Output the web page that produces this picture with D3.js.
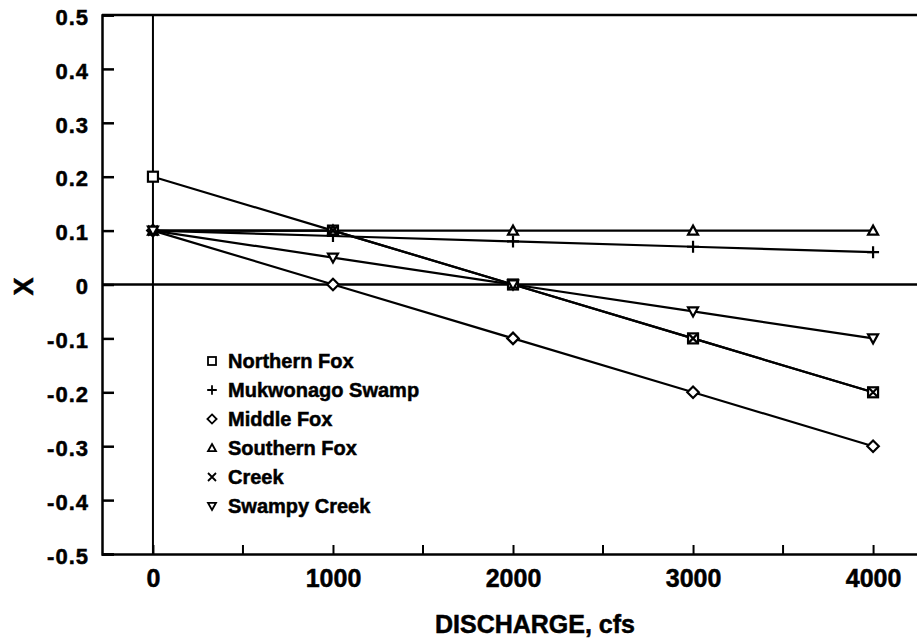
<!DOCTYPE html>
<html>
<head>
<meta charset="utf-8">
<script src="https://cdn.jsdelivr.net/npm/d3@7"></script>
<style>
  html, body { margin: 0; padding: 0; background: #fff; }
  svg { display: block; font-family: "Liberation Sans", Arial, sans-serif; font-weight: bold; }
  svg text { stroke: #000; stroke-width: 0.5px; }
</style>
</head>
<body>
<svg id="chart" width="917" height="638"></svg>
<script>
// Discharge values (cfs) shared by every reach
const discharge = [0, 1000, 2000, 3000, 4000];

// Muskingum X parameter for each reach
const northernFox    = [0.2, 0.1, 0.0, -0.1, -0.2];
const mukwonagoSwamp = [0.1, 0.09, 0.08, 0.07, 0.06];
const middleFox      = [0.1, 0.0, -0.1, -0.2, -0.3];
const southernFox    = [0.1, 0.1, 0.1, 0.1, 0.1];
const creek          = [0.1, 0.1, 0.0, -0.1, -0.2];
const swampyCreek    = [0.1, 0.05, 0.0, -0.05, -0.1];

const seriesNames = ["Northern Fox", "Mukwonago Swamp", "Middle Fox", "Southern Fox", "Creek", "Swampy Creek"];
const seriesValues = [northernFox, mukwonagoSwamp, middleFox, southernFox, creek, swampyCreek];
const seriesSymbols = ["square", "plus", "diamond", "triangle", "cross", "triangleDown"];

const xTickValues = [0, 1000, 2000, 3000, 4000];
const xMinorTicks = [500, 1500, 2500, 3500];
const yTickValues = [0.5, 0.4, 0.3, 0.2, 0.1, 0, -0.1, -0.2, -0.3, -0.4, -0.5];

const svg = d3.select("#chart");
const plotL = 102, plotR = 917, plotT = 15, plotB = 554;

const x = d3.scaleLinear().domain([-283, 4244]).range([plotL, plotR]);
const y = d3.scaleLinear().domain([-0.5, 0.5]).range([plotB, plotT]);

// Top frame line
svg.append("line").attr("x1", plotL).attr("x2", plotR).attr("y1", plotT).attr("y2", plotT)
  .attr("stroke", "#000").attr("stroke-width", 2.5);

// Y axis with inward ticks; labels use a plain hyphen for negatives
const yAxis = d3.axisLeft(y).tickValues(yTickValues).tickSize(-12).tickPadding(13)
  .tickFormat(d => d === 0 ? "0" : d3.format(".1f")(d).replace("\u2212", "-"));
const gy = svg.append("g").attr("transform", `translate(${plotL},0)`).call(yAxis);
gy.select(".domain").attr("stroke-width", 2.5);
gy.selectAll(".tick line").attr("stroke-width", 2.5);
gy.selectAll(".tick text").attr("font-size", 22).attr("font-weight", "bold")
  .attr("letter-spacing", 1)
  .attr("font-family", "Liberation Sans, Arial, sans-serif").attr("dy", "0.42em");

// X axis with inward ticks
const xAxis = d3.axisBottom(x).tickValues(xTickValues).tickSize(-9).tickPadding(0)
  .tickFormat(d3.format("d"));
const gx = svg.append("g").attr("transform", `translate(0,${plotB})`).call(xAxis);
gx.select(".domain").attr("d", `M${plotL},0.5H${plotR}`).attr("stroke-width", 2.5);
gx.selectAll(".tick line").attr("stroke-width", 2);
gx.selectAll(".tick text").attr("font-size", 25).attr("font-weight", "bold")
  .attr("font-family", "Liberation Sans, Arial, sans-serif")
  .attr("y", 33).attr("dy", 0);
gx.selectAll(".minor").data(xMinorTicks).enter().append("line")
  .attr("x1", d => x(d)).attr("x2", d => x(d)).attr("y1", 0).attr("y2", -9)
  .attr("stroke", "#000").attr("stroke-width", 2);

// Reference lines at zero
svg.append("line").attr("x1", x(0)).attr("x2", x(0)).attr("y1", plotT).attr("y2", plotB)
  .attr("stroke", "#000").attr("stroke-width", 2);
svg.append("line").attr("x1", plotL).attr("x2", plotR).attr("y1", y(0)).attr("y2", y(0))
  .attr("stroke", "#000").attr("stroke-width", 2.5);

// Axis titles
svg.append("text").attr("x", 535).attr("y", 633).attr("text-anchor", "middle")
  .attr("font-size", 25).text("DISCHARGE, cfs");
svg.append("text").attr("transform", `translate(33,${y(0) + 2}) rotate(-90)`)
  .attr("text-anchor", "middle").attr("font-size", 27).text("X");

// Marker drawing
function drawSymbol(g, type, s, sw) {
  const h = s / 2;
  const st = { fill: "#fff", stroke: "#000", "stroke-width": sw };
  let el;
  if (type === "square") {
    el = g.append("rect").attr("x", -h).attr("y", -h).attr("width", s).attr("height", s);
  } else if (type === "diamond") {
    el = g.append("path").attr("d", `M0,${-h * 1.15}L${h * 1.15},0L0,${h * 1.15}L${-h * 1.15},0Z`);
  } else if (type === "triangle") {
    el = g.append("path").attr("d", `M0,${-h}L${h},${h * 0.8}L${-h},${h * 0.8}Z`);
  } else if (type === "triangleDown") {
    el = g.append("path").attr("d", `M0,${h}L${h},${-h * 0.8}L${-h},${-h * 0.8}Z`);
  } else if (type === "plus") {
    el = g.append("path").attr("d", `M${-h * 1.2},0H${h * 1.2}M0,${-h * 1.2}V${h * 1.2}`);
    st.fill = "none";
  } else if (type === "cross") {
    el = g.append("path").attr("d", `M${-h},${-h}L${h},${h}M${h},${-h}L${-h},${h}`);
    st.fill = "none";
  }
  Object.entries(st).forEach(([k, v]) => el.attr(k, v));
}

const line = d3.line().x(d => x(d[0])).y(d => y(d[1]));

seriesValues.forEach((vals) => {
  const pts = discharge.map((d, j) => [d, vals[j]]);
  svg.append("path").attr("d", line(pts)).attr("fill", "none")
    .attr("stroke", "#000").attr("stroke-width", 2.2);
});
seriesValues.forEach((vals, i) => {
  discharge.forEach((d, j) => {
    const g = svg.append("g").attr("transform", `translate(${x(d)},${y(vals[j])})`);
    drawSymbol(g, seriesSymbols[i], 10, 2.2);
  });
});

// Legend
const legend = svg.append("g");
seriesNames.forEach((name, i) => {
  const ly = 361 + i * 29;
  const g = legend.append("g").attr("transform", `translate(212,${ly})`);
  drawSymbol(g, seriesSymbols[i], 8, 1.8);
  legend.append("text").attr("x", 228).attr("y", ly).attr("dy", "0.36em")
    .attr("font-size", 20).text(name);
});
</script>
</body>
</html>
